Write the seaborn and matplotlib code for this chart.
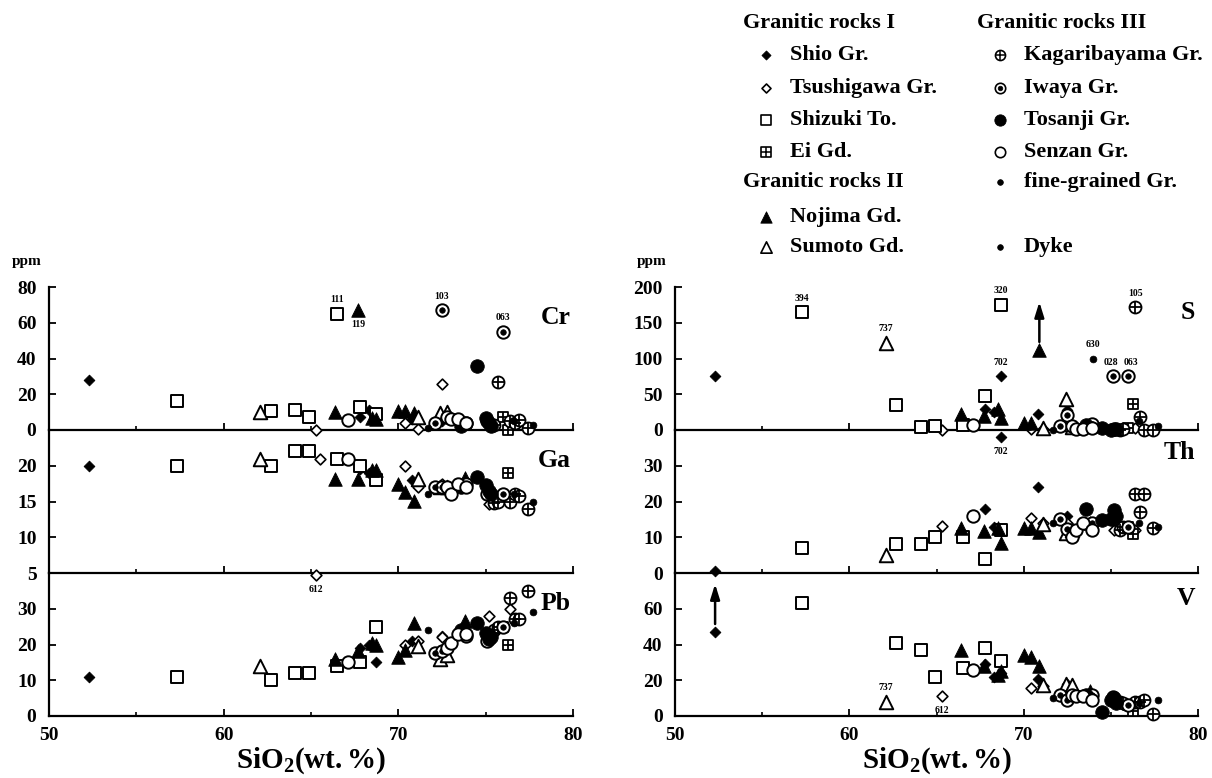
import numpy as np
import pandas as pd
import matplotlib
matplotlib.use("Agg")
import matplotlib.pyplot as plt
import matplotlib.transforms as mtransforms
import seaborn as sns

nan = np.nan

# ---------------- data (SiO2 wt.% and ppm values per sample) ----------------
SHIO_SIO2 = [52.3, 67.8, 68.3, 68.7, 70.8, 72.5]
SHIO_CR = [28, 7.5, 11, 8, 6, 5]
SHIO_GA = [20, 19.5, 19, 18, 18, 17]
SHIO_PB = [11, 19, 20, 15, 21, 22.5]
SHIO_S = [75, 30, 25, 75, 22, 28]
SHIO_TH = [0.5, 18, 13, 38, 24, 16]
SHIO_V = [47, 29, 22, 24, 20.5, 18]

TSU_SIO2 = [65.3, 65.5, 70.4, 71.1, 72.5, 75.2, 76.4]
TSU_CR = [0, nan, 4, 0.5, 26, 2, 3]
TSU_GA = [4.7, 21, 20, 17, 17.5, 14.7, 15.5]
TSU_PB = [nan, nan, 20, 21, 22, 28, 30]
TSU_S = [0, nan, 2, 1, 4, 2, 3]
TSU_TH = [13.2, nan, 15.5, 14, 14, 12, 12]
TSU_V = [11, nan, 15.6, 17, 16, 8, 7]

SHI_SIO2 = [57.3, 62.7, 64.1, 64.9, 66.5, 67.8, 68.7]
SHI_CR = [16, 10.5, 11, 7, 65, 13, 9]
SHI_GA = [20, 20, 22, 22, 21, 20, 18]
SHI_PB = [11, 10, 12, 12, 14, 15, 25]
SHI_S = [165, 35, 4, 6, 7, 47, 175]
SHI_TH = [7, 8, 8, 10, 10, 4, 12]
SHI_V = [63, 41, 37, 22, 27, 38, 31]

EI_SIO2 = [76.0, 76.3]
EI_CR = [7, 0]
EI_GA = [15.5, 19]
EI_PB = [25, 20]
EI_S = [3, 37]
EI_TH = [13, 11]
EI_V = [6, 3]

NOJ_SIO2 = [66.4, 67.7, 68.5, 68.7, 70.0, 70.4, 70.9, 73.8]
NOJ_CR = [10, 67, 6.7, 6, 10.5, 10.5, 9.5, 4]
NOJ_GA = [18.2, 18.2, 19.4, 19.4, 17.5, 16.3, 15.1, 18.3]
NOJ_PB = [16, 18.3, 20.3, 20, 16.4, 18.5, 26, 26.7]
NOJ_S = [22, 20, 30, 17, 10, 10, 112, 5]
NOJ_TH = [12.6, 11.7, 12.5, 8.4, 12.6, 12.5, 11.5, 14]
NOJ_V = [37, 28, 23, 25, 34, 33, 28, 14]

SUM_SIO2 = [62.1, 71.1, 72.4, 72.8]
SUM_CR = [10, 7.5, 9.5, 10]
SUM_GA = [21, 18.2, 17, 17]
SUM_PB = [14, 19.5, 16, 17]
SUM_S = [122, 3, 44, 4]
SUM_TH = [5, 13.7, 11.3, 12]
SUM_V = [8, 17.6, 18, 17.6]

KAG_SIO2 = [75.5, 75.7, 76.4, 76.7, 76.9, 77.4]
KAG_CR = [3, 27, 5, 4, 5.6, 1]
KAG_GA = [14.8, 15, 14.9, 16, 15.8, 14]
KAG_PB = [24, 25, 33, 27, 27, 35]
KAG_S = [0, 2, 172, 18, 0, 0]
KAG_TH = [12, 13, 22, 17, 22, 12.7]
KAG_V = [8, 7, 8, 8, 9, 1]

IWA_SIO2 = [72.1, 72.5, 73.9, 75.1, 76.0]
IWA_CR = [4, 67, 4, 5, 55]
IWA_GA = [17, 17, 17.5, 16, 16]
IWA_PB = [17.5, 18.3, 22.5, 21, 25]
IWA_S = [5, 21, 8, 75, 75]
IWA_TH = [15, 12.4, 14, 15, 13]
IWA_V = [12, 9, 12, 10.6, 6]

TOS_SIO2 = [73.6, 74.5, 75.0, 75.2, 75.3]
TOS_CR = [2, 36, 6.7, 4, 2]
TOS_GA = [17, 18.4, 17.3, 16.5, 16]
TOS_PB = [24, 26, 23.3, 21.5, 22]
TOS_S = [7, 3, 0, 2, 1]
TOS_TH = [18, 14.7, 15, 17.5, 16]
TOS_V = [12, 2, 8.7, 10, 7]

SEN_SIO2 = [67.1, 72.8, 73.0, 73.4, 73.9]
SEN_CR = [5.6, 7, 6, 6, 4]
SEN_GA = [21, 17, 16, 17.5, 17]
SEN_PB = [15, 19, 20.5, 22.8, 23]
SEN_S = [7, 5, 2, 1, 3]
SEN_TH = [16, 10, 12, 14, 12]
SEN_V = [26, 12, 11, 11, 9]

FG_SIO2 = [71.7, 74.0, 77.7]
FG_CR = [1, nan, 3]
FG_GA = [16, nan, 15]
FG_PB = [24, nan, 29]
FG_S = [0, 100, 6]
FG_TH = [14, nan, 13]
FG_V = [10, nan, 9]

DYK_SIO2 = [76.6]
DYK_CR = [5]
DYK_GA = [16]
DYK_PB = [26]
DYK_S = [12]
DYK_TH = [14]
DYK_V = [7]

ELEMENTS = ["Cr", "Ga", "Pb", "S", "Th", "V"]
GROUPS = [
    ("Shio Gr.", SHIO_SIO2, SHIO_CR, SHIO_GA, SHIO_PB, SHIO_S, SHIO_TH, SHIO_V),
    ("Tsushigawa Gr.", TSU_SIO2, TSU_CR, TSU_GA, TSU_PB, TSU_S, TSU_TH, TSU_V),
    ("Shizuki To.", SHI_SIO2, SHI_CR, SHI_GA, SHI_PB, SHI_S, SHI_TH, SHI_V),
    ("Ei Gd.", EI_SIO2, EI_CR, EI_GA, EI_PB, EI_S, EI_TH, EI_V),
    ("Nojima Gd.", NOJ_SIO2, NOJ_CR, NOJ_GA, NOJ_PB, NOJ_S, NOJ_TH, NOJ_V),
    ("Sumoto Gd.", SUM_SIO2, SUM_CR, SUM_GA, SUM_PB, SUM_S, SUM_TH, SUM_V),
    ("Kagaribayama Gr.", KAG_SIO2, KAG_CR, KAG_GA, KAG_PB, KAG_S, KAG_TH, KAG_V),
    ("Iwaya Gr.", IWA_SIO2, IWA_CR, IWA_GA, IWA_PB, IWA_S, IWA_TH, IWA_V),
    ("Tosanji Gr.", TOS_SIO2, TOS_CR, TOS_GA, TOS_PB, TOS_S, TOS_TH, TOS_V),
    ("Senzan Gr.", SEN_SIO2, SEN_CR, SEN_GA, SEN_PB, SEN_S, SEN_TH, SEN_V),
    ("fine-grained Gr.", FG_SIO2, FG_CR, FG_GA, FG_PB, FG_S, FG_TH, FG_V),
    ("Dyke", DYK_SIO2, DYK_CR, DYK_GA, DYK_PB, DYK_S, DYK_TH, DYK_V),
]

# sample labels: (element, group, sample index, text, side, horizontal nudge in points)
LABELS = [
    ("Cr", "Shizuki To.", 4, "111", "above", 0),
    ("Cr", "Nojima Gd.", 1, "119", "below", 0),
    ("Cr", "Iwaya Gr.", 1, "103", "above", 0),
    ("Cr", "Iwaya Gr.", 4, "063", "above", 0),
    ("Ga", "Tsushigawa Gr.", 0, "612", "below", 0),
    ("S", "Shizuki To.", 0, "394", "above", 0),
    ("S", "Sumoto Gd.", 0, "737", "above", 0),
    ("S", "Shizuki To.", 6, "320", "above", 0),
    ("S", "Shio Gr.", 3, "702", "above", 0),
    ("S", "Kagaribayama Gr.", 2, "105", "above", 0),
    ("S", "fine-grained Gr.", 1, "630", "above", 0),
    ("S", "Iwaya Gr.", 3, "028", "above", -1.5),
    ("S", "Iwaya Gr.", 4, "063", "above", 2),
    ("Th", "Shio Gr.", 3, "702", "below", 0),
    ("V", "Sumoto Gd.", 0, "737", "above", 0),
    ("V", "Tsushigawa Gr.", 0, "612", "below", 0),
]
# samples whose value exceeds the plotted one (upward arrow)
ARROWS = [("S", "Nojima Gd.", 6), ("V", "Shio Gr.", 0)]

# ---------------- tidy frame ----------------
rows = []
for name, sio2, *vals in GROUPS:
    for el, v in zip(ELEMENTS, vals):
        for i, (x, y) in enumerate(zip(sio2, v)):
            rows.append(dict(group=name, idx=i, SiO2=x, element=el, value=y))
df = pd.DataFrame(rows).dropna(subset=["value"])

# ---------------- styles ----------------
def L(marker, s, fc, ec="black", lw=1.3):
    return dict(marker=marker, s=s, fc=fc, ec=ec, lw=lw)

STYLES = {
    "Shio Gr.": [L("D", 30, "black", lw=0.6)],
    "Tsushigawa Gr.": [L("D", 30, "white", lw=1.2)],
    "Shizuki To.": [L("s", 78, "white", lw=1.4)],
    "Ei Gd.": [L("s", 62, "white", lw=1.3), L("+", 62, "black", lw=1.3)],
    "Nojima Gd.": [L("^", 95, "black", lw=0.6)],
    "Sumoto Gd.": [L("^", 95, "white", lw=1.4)],
    "Kagaribayama Gr.": [L("o", 75, "white", lw=1.3), L("+", 75, "black", lw=1.3)],
    "Iwaya Gr.": [L("o", 80, "white", lw=1.4), L("o", 16, "black", lw=0.5)],
    "Tosanji Gr.": [L("o", 95, "black", lw=0.6)],
    "Senzan Gr.": [L("o", 80, "white", lw=1.4)],
    "fine-grained Gr.": [L("o", 24, "black", lw=0.5)],
    "Dyke": [L("o", 24, "black", lw=0.5)],
}

sns.set_style("ticks")
plt.rcParams.update({
    "font.family": ["Liberation Serif", "DejaVu Serif"],
    "font.weight": "bold",
    "axes.edgecolor": "black",
    "axes.labelcolor": "black",
    "xtick.color": "black",
    "ytick.color": "black",
    "text.color": "black",
    "mathtext.fontset": "custom",
    "mathtext.rm": "Liberation Serif:bold",
    "mathtext.bf": "Liberation Serif:bold",
    "mathtext.it": "Liberation Serif:bold:italic",
})

W, H = 1212, 778
fig = plt.figure(figsize=(W / 100, H / 100), dpi=100)

YLIM = {"Cr": (0, 80), "Ga": (5, 25), "Pb": (0, 40),
        "S": (0, 200), "Th": (0, 40), "V": (0, 80)}
YTICKS = {"Cr": [0, 20, 40, 60, 80], "Ga": [5, 10, 15, 20], "Pb": [0, 10, 20, 30],
          "S": [0, 50, 100, 150, 200], "Th": [0, 10, 20, 30], "V": [0, 20, 40, 60]}
LABEL_Y = {"Cr": 0.79, "Ga": 0.79, "Pb": 0.785, "S": 0.825, "Th": 0.845, "V": 0.825}

panel_h = 143 / H
tops = [287, 430, 573]
panels = [(49, 524, ["Cr", "Ga", "Pb"]), (675, 523, ["S", "Th", "V"])]
axes = {}
for x0, w, els in panels:
    for k, el in enumerate(els):
        bottom = 1 - (tops[k] + 143) / H
        ax = fig.add_axes([x0 / W, bottom, w / W, panel_h])
        ax.set_facecolor("none")
        axes[el] = ax

for gi, (name, *_rest) in enumerate(GROUPS):
    for el in ELEMENTS:
        sub = df[(df.group == name) & (df.element == el)]
        if sub.empty:
            continue
        ax = axes[el]
        for li, st in enumerate(STYLES[name]):
            z = 3 + gi * 0.1 + li * 0.01
            if st["marker"] == "+":
                sns.scatterplot(data=sub, x="SiO2", y="value", ax=ax, marker="+",
                                s=st["s"], color=st["ec"], linewidth=st["lw"],
                                clip_on=False, zorder=z, legend=False)
            else:
                sns.scatterplot(data=sub, x="SiO2", y="value", ax=ax, marker=st["marker"],
                                s=st["s"], color=st["fc"], edgecolor=st["ec"],
                                linewidth=st["lw"], clip_on=False, zorder=z, legend=False)

for x0, w, els in panels:
    for k, el in enumerate(els):
        ax = axes[el]
        ax.set_xlim(50, 80)
        ax.set_ylim(*YLIM[el])
        ax.set_yticks(YTICKS[el])
        ax.set_xticks([50, 60, 70, 80])
        ax.set_xticks([55, 65, 75], minor=True)
        ax.set_ylabel("")
        ax.set_xlabel("")
        for sp in ["top", "right"]:
            ax.spines[sp].set_visible(False)
        for sp in ["left", "bottom"]:
            ax.spines[sp].set_linewidth(1.6)
        ax.tick_params(axis="both", which="major", direction="in", length=5, width=1.3,
                       labelsize=14, pad=8)
        ax.tick_params(axis="x", which="minor", direction="in", length=3, width=1.2)
        ax.tick_params(axis="y", pad=9)
        for t in ax.get_xticklabels() + ax.get_yticklabels():
            t.set_fontweight("bold")
        if k < 2:
            ax.tick_params(axis="x", labelbottom=False)
        else:
            ax.set_xlabel(r"$\mathbf{SiO_2(wt.\%)}$", fontsize=21, labelpad=1, color="black")
        ax.text(0.995, LABEL_Y[el], el, transform=ax.transAxes, ha="right", va="center",
                fontsize=18.5, fontweight="bold")

fig.text(12 / W, 1 - 262 / H, "ppm", fontsize=11, fontweight="bold", va="center")
fig.text(637 / W, 1 - 262 / H, "ppm", fontsize=11, fontweight="bold", va="center")

lookup = {name: (sio2, dict(zip(ELEMENTS, vals))) for name, sio2, *vals in GROUPS}
for el, grp, i, txt, side, dx in LABELS:
    sio2, vals = lookup[grp]
    dy = 10 if side == "above" else -10
    axes[el].annotate(txt, (sio2[i], vals[el][i]), xytext=(dx, dy), textcoords="offset points",
                      ha="center", va="center", fontsize=7, fontweight="bold",
                      annotation_clip=False)
for el, grp, i in ARROWS:
    sio2, vals = lookup[grp]
    ax = axes[el]
    pt = (sio2[i], vals[el][i])
    ax.annotate("", xy=pt, xycoords=mtransforms.offset_copy(ax.transData, x=0, y=48, units="dots"),
                xytext=pt, textcoords=mtransforms.offset_copy(ax.transData, x=0, y=8, units="dots"),
                arrowprops=dict(arrowstyle="-|>,head_length=0.9,head_width=0.28", color="black",
                                lw=1.8, shrinkA=0, shrinkB=0),
                annotation_clip=False)

# ---------------- legend (two columns with group headers) ----------------
lg = fig.add_axes([0, 0, 1, 1])
lg.set_xlim(0, W)
lg.set_ylim(H, 0)
lg.axis("off")
LEG_HEADERS = [("Granitic rocks I", 743, 23), ("Granitic rocks II", 743, 182),
               ("Granitic rocks III", 977, 23)]
LEG_ENTRIES = [("Shio Gr.", 766, 55), ("Tsushigawa Gr.", 766, 88), ("Shizuki To.", 766, 120),
               ("Ei Gd.", 766, 152), ("Nojima Gd.", 766, 217), ("Sumoto Gd.", 766, 247),
               ("Kagaribayama Gr.", 1000, 55), ("Iwaya Gr.", 1000, 88), ("Tosanji Gr.", 1000, 120),
               ("Senzan Gr.", 1000, 152), ("fine-grained Gr.", 1000, 182), ("Dyke", 1000, 247)]
for txt, x, y in LEG_HEADERS:
    lg.text(x, y, txt, fontsize=16, fontweight="bold", ha="left", va="center")
for name, x, y in LEG_ENTRIES:
    for st in STYLES[name]:
        if st["marker"] == "+":
            lg.scatter([x], [y], marker="+", s=st["s"] * 0.7, color=st["ec"], linewidth=1.1)
        else:
            lg.scatter([x], [y], marker=st["marker"], s=st["s"] * 0.7, facecolor=st["fc"],
                       edgecolor=st["ec"], linewidth=min(st["lw"], 1.2))
    lg.text(x + 24, y, name, fontsize=16, fontweight="bold", ha="left", va="center")

fig.savefig("out.png", dpi=100)
